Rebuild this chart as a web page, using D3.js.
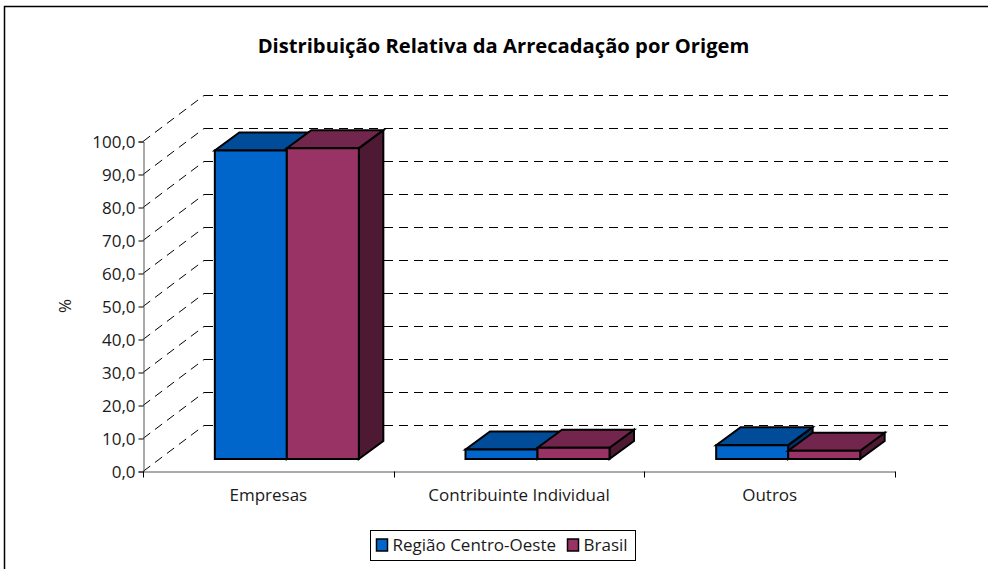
<!DOCTYPE html>
<html>
<head>
<meta charset="utf-8">
<script src="https://cdn.jsdelivr.net/npm/d3@7"></script>
<style>
  html, body { margin: 0; padding: 0; background: #fff; }
  svg { display: block; }
  text { font-family: "Open Sans", "DejaVu Sans", sans-serif; fill: #1a1a1a; }
</style>
</head>
<body>
<svg id="chart" width="988" height="569"></svg>
<script>
var categories = ['Empresas', 'Contribuinte Individual', 'Outros'];
var seriesNames = ['Região Centro-Oeste', 'Brasil'];
var centroOeste = [93.5, 2.9, 4.2];
var brasil = [94.2, 3.4, 2.5];
var yTicks = d3.range(0, 101, 10);

var seriesColors = [
  { front: '#0066cc', top: '#004c99', side: '#003366' },
  { front: '#993366', top: '#73264d', side: '#4d1933' }
];

var svg = d3.select('#chart');

// frame
svg.append('path')
  .attr('d', 'M4.5,569V6.5H988')
  .attr('fill', 'none')
  .attr('stroke', '#000')
  .attr('stroke-width', 1.5);

svg.append('text')
  .attr('x', 503.5)
  .attr('y', 53)
  .attr('text-anchor', 'middle')
  .attr('font-size', 20.2)
  .attr('font-weight', 700)
  .style('fill', '#000')
  .text('Distribuição Relativa da Arrecadação por Origem');

var yScale = d3.scaleLinear().domain([0, 100]).range([471.5, 141.5]);
var xScale = d3.scaleBand().domain(categories).range([143, 895]);

// floor depth of the whole plot
var depthX = 61;
var depthY = -46;

// bars sit a bit inside the floor
var barFloorX = 16.5;
var barFloorY = -12.5;
var barDepthX = 24.5;
var barDepthY = -18;
var barWidth = 72;

// gridlines: side wall + back wall
var grid = svg.append('g').attr('fill', 'none').attr('stroke', '#000');
yTicks.forEach(function(d) {
  var y = yScale(d);
  grid.append('line')
    .attr('x1', 143).attr('y1', y)
    .attr('x2', 143 + depthX).attr('y2', y + depthY)
    .attr('stroke-dasharray', '9,6');
  grid.append('line')
    .attr('x1', 204).attr('y1', y + depthY)
    .attr('x2', 951).attr('y2', y + depthY)
    .attr('stroke-dasharray', '9,6');
});

// axes
var yAxis = d3.axisLeft(yScale)
  .tickValues(yTicks)
  .tickSize(5)
  .tickPadding(3)
  .tickFormat(function(d) { return d3.format('.1f')(d).replace('.', ','); });

var gy = svg.append('g').attr('transform', 'translate(143.5,0)').call(yAxis);
gy.selectAll('text')
  .attr('font-size', 17)
  .attr('dy', '0.38em')
  .style('font-family', '"Open Sans", sans-serif');

var xAxis = d3.axisBottom(xScale).tickSize(0).tickPadding(17);
var gx = svg.append('g').attr('transform', 'translate(0,471.5)').call(xAxis);
gx.selectAll('text').attr('font-size', 17).style('font-family', '"Open Sans", sans-serif');
var xEdges = categories.map(function(d) { return xScale(d); }).concat(895);
gx.selectAll('.edge').data(xEdges).enter().append('line')
  .attr('class', 'edge')
  .attr('x1', function(d) { return Math.round(d) + 0.5; })
  .attr('x2', function(d) { return Math.round(d) + 0.5; })
  .attr('y1', 0)
  .attr('y2', 6)
  .attr('stroke', '#000');
gx.selectAll('path.domain, g.tick line').attr('stroke', '#555');
gy.select('path.domain').attr('stroke', '#555');

svg.append('text')
  .attr('transform', 'translate(71,306) rotate(-90)')
  .attr('text-anchor', 'middle')
  .attr('font-size', 17)
  .text('%');

// one 3d box
function drawBox(g, x, value, colors) {
  var x0 = x;
  var x1 = x + barWidth;
  var yBase = yScale(0) + barFloorY;
  var yTop = yBase - (yScale(0) - yScale(value));
  var dx = barDepthX;
  var dy = barDepthY;
  var poly = function(points, fill) {
    g.append('polygon')
      .attr('points', points.map(function(p) { return p.join(','); }).join(' '))
      .attr('fill', fill)
      .attr('stroke', '#000')
      .attr('stroke-width', 2)
      .attr('stroke-linejoin', 'miter');
  };
  poly([[x1, yBase], [x1 + dx, yBase + dy], [x1 + dx, yTop + dy], [x1, yTop]], colors.side);
  poly([[x0, yTop], [x1, yTop], [x1 + dx, yTop + dy], [x0 + dx, yTop + dy]], colors.top);
  poly([[x0, yBase], [x1, yBase], [x1, yTop], [x0, yTop]], colors.front);
}

var bars = svg.append('g');
categories.forEach(function(c, i) {
  var start = xScale(c) + xScale.bandwidth() / 2 + barFloorX - barWidth + 2;
  drawBox(bars, start, centroOeste[i], seriesColors[0]);
  drawBox(bars, start + barWidth, brasil[i], seriesColors[1]);
});

// legend
var legend = svg.append('g');
legend.append('rect')
  .attr('x', 370.5).attr('y', 530.5)
  .attr('width', 265).attr('height', 30)
  .attr('fill', '#fff').attr('stroke', '#000');
var legendX = [376.5, 567.5];
seriesNames.forEach(function(name, i) {
  legend.append('rect')
    .attr('x', legendX[i]).attr('y', 539)
    .attr('width', 11).attr('height', 12)
    .attr('fill', seriesColors[i].front)
    .attr('stroke', '#000')
    .attr('stroke-width', 1.5);
  legend.append('text')
    .attr('x', legendX[i] + 16)
    .attr('y', 551)
    .attr('font-size', 17)
    .text(name);
});
</script>
</body>
</html>
